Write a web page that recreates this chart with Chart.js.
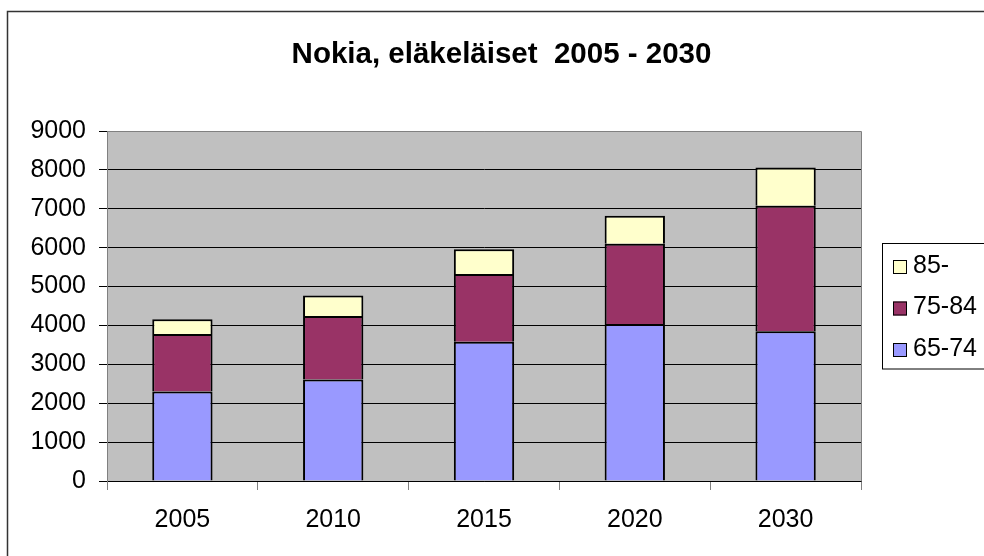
<!DOCTYPE html>
<html lang="fi">
<head>
  <meta charset="UTF-8">
  <title>Nokia, eläkeläiset 2005 - 2030</title>
  <script src="https://cdn.jsdelivr.net/npm/chart.js@4"></script>
  <style>
    html, body {
      margin: 0;
      padding: 0;
      background: #fff;
      overflow: hidden;
    }

    .chart-wrap {
      position: relative;
      width: 984px;
      height: 556px;
    }
  </style>
</head>
<body>
  <div class="chart-wrap">
    <canvas id="chartElakelaiset"></canvas>
  </div>

  <script>
    // Eläkeläiset ikäryhmittäin
    const vuodet = ['2005', '2010', '2015', '2020', '2030'];
    const ika65_74 = [2300, 2610, 3580, 4040, 3850];
    const ika75_84 = [1480, 1630, 1740, 2060, 3230];
    const ika85 = [380, 530, 640, 720, 980];

    const ryhmat = ['65-74', '75-84', '85-'];
    const yAsteikko = [0, 1000, 2000, 3000, 4000, 5000, 6000, 7000, 8000, 9000];

    const fontti = '"Liberation Sans", Arial, sans-serif';

    // Piirtoalueen tausta, kehys, otsikko ja selite
    const kehys = {
      id: 'kehys',
      beforeDraw(chart) {
        const { ctx, chartArea: a } = chart;
        ctx.save();
        ctx.fillStyle = '#c0c0c0';
        ctx.fillRect(a.left, a.top, a.right - a.left, a.bottom - a.top);
        ctx.restore();
      },
      beforeDatasetsDraw(chart) {
        const { ctx, chartArea: a } = chart;
        ctx.save();
        ctx.strokeStyle = '#808080';
        ctx.lineWidth = 1;
        ctx.beginPath();
        ctx.moveTo(Math.round(a.left) + 0.5, Math.round(a.top) + 0.5);
        ctx.lineTo(Math.round(a.right) + 0.5, Math.round(a.top) + 0.5);
        ctx.lineTo(Math.round(a.right) + 0.5, Math.round(a.bottom) + 0.5);
        ctx.stroke();
        ctx.restore();
      },
      afterDraw(chart) {
        const ctx = chart.ctx;
        ctx.save();

        // ulkokehys
        ctx.strokeStyle = '#333';
        ctx.lineWidth = 1.5;
        ctx.strokeRect(7.5, 11.5, 2000, 2000);

        // otsikko
        ctx.fillStyle = '#000';
        ctx.font = 'bold 29.5px ' + fontti;
        ctx.textAlign = 'center';
        ctx.textBaseline = 'alphabetic';
        ctx.fillText('Nokia, eläkeläiset  2005 - 2030', 501.5, 63);

        // selite, ylin ryhmä ensin
        ctx.strokeStyle = '#000';
        ctx.lineWidth = 1;
        ctx.strokeRect(882.5, 243.5, 200, 125.5);
        ctx.font = '25px ' + fontti;
        ctx.textAlign = 'left';
        ctx.textBaseline = 'middle';
        const sarjat = chart.data.datasets;
        for (let k = 0; k < sarjat.length; k++) {
          const ds = sarjat[sarjat.length - 1 - k];
          const y = 266 + k * 41.5;
          ctx.fillStyle = ds.backgroundColor;
          ctx.fillRect(893, y - 6, 14, 14);
          ctx.strokeRect(893.5, y - 5.5, 13, 13);
          ctx.fillStyle = '#000';
          ctx.fillText(ds.label, 913, y);
        }
        ctx.restore();
      }
    };

    new Chart(document.getElementById('chartElakelaiset'), {
      type: 'bar',
      data: {
        labels: vuodet,
        datasets: [
          { label: ryhmat[0], data: ika65_74, backgroundColor: '#9999ff' },
          { label: ryhmat[1], data: ika75_84, backgroundColor: '#993366' },
          { label: ryhmat[2], data: ika85, backgroundColor: '#ffffcc' }
        ]
      },
      options: {
        responsive: true,
        maintainAspectRatio: false,
        animation: false,
        layout: {
          padding: { left: 0, top: 131, right: 123, bottom: 0 }
        },
        datasets: {
          bar: {
            borderColor: '#000',
            borderWidth: 2,
            barPercentage: 0.4,
            categoryPercentage: 1.0
          }
        },
        plugins: {
          legend: { display: false },
          title: { display: false },
          tooltip: { enabled: false }
        },
        scales: {
          x: {
            stacked: true,
            afterFit(scale) { scale.height = 75; },
            grid: {
              display: true,
              offset: true,
              drawOnChartArea: false,
              drawTicks: true,
              tickLength: 9,
              tickColor: '#808080'
            },
            border: { display: true, color: '#000', width: 1 },
            ticks: {
              color: '#000',
              padding: 15,
              maxRotation: 0,
              font: { family: fontti, size: 25 }
            }
          },
          y: {
            stacked: true,
            min: yAsteikko[0],
            max: yAsteikko[yAsteikko.length - 1],
            afterFit(scale) { scale.width = 107; },
            afterBuildTicks(scale) {
              scale.ticks = yAsteikko.map(v => ({ value: v }));
            },
            grid: {
              color: ctx => (ctx.tick && ctx.tick.value === 9000 ? '#808080' : '#000'),
              tickColor: '#000',
              tickLength: 8,
              lineWidth: 1
            },
            border: { display: true, color: '#808080', width: 1 },
            ticks: {
              color: '#000',
              padding: 13,
              callback: v => String(v),
              font: { family: fontti, size: 25 }
            }
          }
        }
      },
      plugins: [kehys]
    });
  </script>
</body>
</html>
